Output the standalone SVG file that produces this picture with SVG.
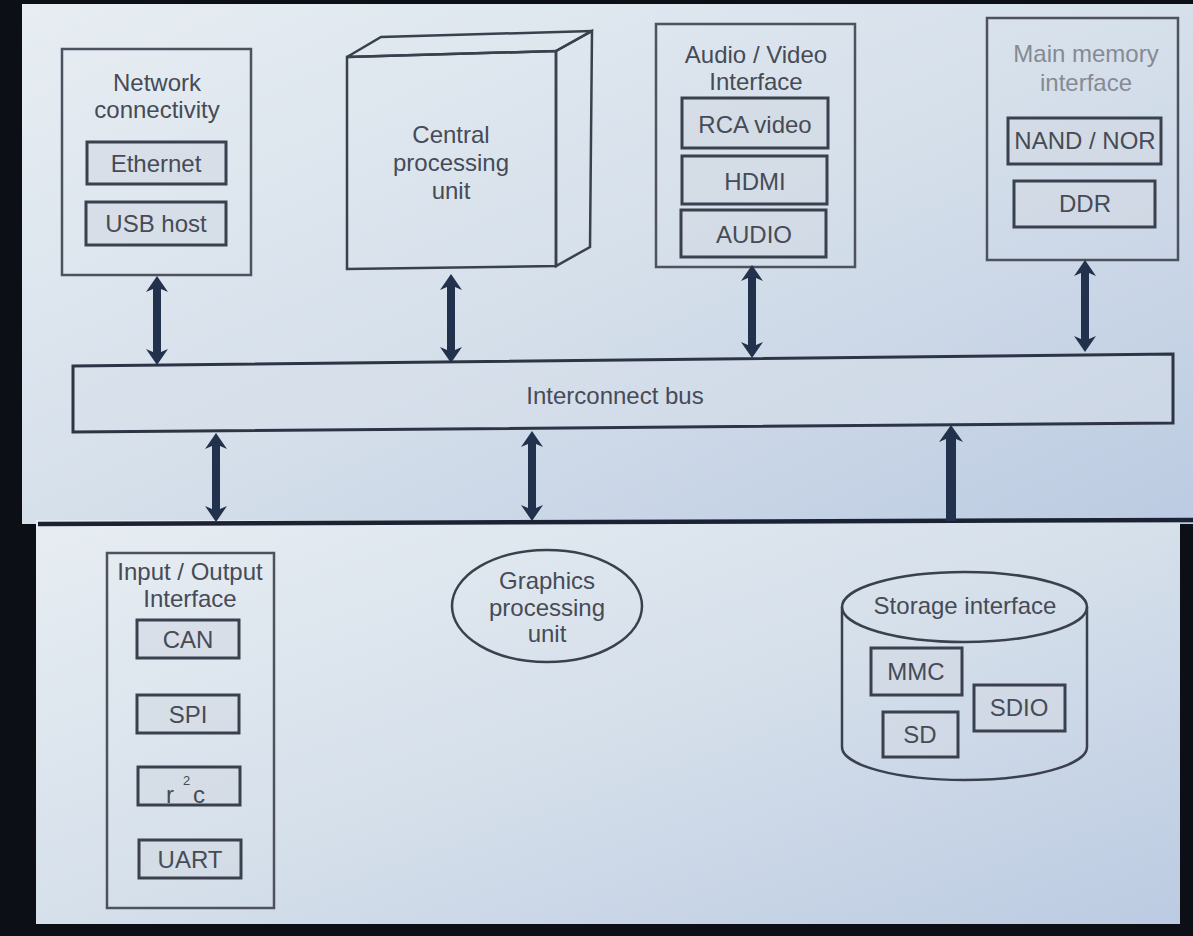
<svg xmlns="http://www.w3.org/2000/svg" width="1193" height="936" viewBox="0 0 1193 936">
<defs>
<linearGradient id="bg" x1="0" y1="0" x2="1" y2="1">
<stop offset="0" stop-color="#e7edf2"/>
<stop offset="0.5" stop-color="#d6e0eb"/>
<stop offset="1" stop-color="#bccbe2"/>
</linearGradient>
<style>
.t{font-family:"Liberation Sans",Arial,sans-serif;font-size:24px;fill:#464b56;text-anchor:middle}
.lt{fill:#858a94}
.outer{fill:none;stroke:#4d525e;stroke-width:2.5}
.inner{fill:#d2d9e2;fill-opacity:0.6;stroke:#3a404e;stroke-width:3}
.shape{fill:none;stroke:#3a404e;stroke-width:2.5}
.arr{fill:#22324d}
</style>
</defs>
<rect x="0" y="0" width="1193" height="936" fill="#0c0f16"/>
<rect x="22" y="4" width="1171" height="520" fill="url(#bg)"/>
<rect x="36" y="520" width="1144" height="404" fill="url(#bg)"/>

<g id="network">
<rect class="outer" x="62" y="49" width="189" height="226"/>
<text class="t" x="157" y="91">Network</text>
<text class="t" x="157" y="118">connectivity</text>
<rect class="inner" x="87" y="142" width="139" height="42"/>
<text class="t" x="156" y="172">Ethernet</text>
<rect class="inner" x="86" y="202" width="140" height="43"/>
<text class="t" x="156" y="232">USB host</text>
</g>

<g id="cpu">
<polygon class="shape" points="347,57 556,51 556,266 347,269"/>
<polygon class="shape" points="347,57 381,37 592,31 556,51"/>
<polygon class="shape" points="556,51 592,31 590,247 556,266"/>
<text class="t" x="451" y="143">Central</text>
<text class="t" x="451" y="171">processing</text>
<text class="t" x="451" y="199">unit</text>
</g>

<g id="av">
<rect class="outer" x="656" y="24" width="199" height="243"/>
<text class="t" x="756" y="63">Audio / Video</text>
<text class="t" x="756" y="90">Interface</text>
<rect class="inner" x="682" y="98" width="146" height="50"/>
<text class="t" x="755" y="133">RCA video</text>
<rect class="inner" x="682" y="156" width="145" height="48"/>
<text class="t" x="755" y="190">HDMI</text>
<rect class="inner" x="681" y="210" width="145" height="47"/>
<text class="t" x="754" y="243">AUDIO</text>
</g>

<g id="memory">
<rect class="outer" x="987" y="18" width="191" height="242"/>
<text class="t lt" x="1086" y="62">Main memory</text>
<text class="t lt" x="1086" y="91">interface</text>
<rect class="inner" x="1008" y="118" width="153" height="46"/>
<text class="t" x="1085" y="149">NAND / NOR</text>
<rect class="inner" x="1014" y="181" width="141" height="46"/>
<text class="t" x="1085" y="212">DDR</text>
</g>

<g id="bus">
<polygon fill="#d7e0ea" fill-opacity="0.5" stroke="#2c3445" stroke-width="3" points="73,366 1173,354 1173,423 73,432"/>
<text class="t" x="615" y="404">Interconnect bus</text>
</g>

<g id="io">
<rect class="outer" x="107" y="553" width="167" height="355"/>
<text class="t" x="190" y="580">Input / Output</text>
<text class="t" x="190" y="607">Interface</text>
<rect class="inner" x="137" y="620" width="102" height="38"/>
<text class="t" x="188" y="648">CAN</text>
<rect class="inner" x="137" y="695" width="102" height="38"/>
<text class="t" x="188" y="723">SPI</text>
<rect class="inner" x="138" y="767" width="102" height="38"/>
<text class="t" style="text-anchor:start"><tspan x="166" y="803">r</tspan><tspan x="183" y="785" style="font-size:13px">2</tspan><tspan x="193" y="803">c</tspan></text>
<rect class="inner" x="139" y="840" width="102" height="38"/>
<text class="t" x="190" y="868">UART</text>
</g>

<g id="gpu">
<ellipse class="shape" cx="547" cy="606" rx="95" ry="56"/>
<text class="t" x="547" y="589">Graphics</text>
<text class="t" x="547" y="616">processing</text>
<text class="t" x="547" y="642">unit</text>
</g>

<g id="storage">
<path class="shape" d="M842,607 L842,747 A122.5,33 0 0 0 1087,747 L1087,607"/>
<ellipse class="shape" cx="964.5" cy="607" rx="122.5" ry="35"/>
<text class="t" x="965" y="614">Storage interface</text>
<rect class="inner" x="871" y="648" width="91" height="47"/>
<text class="t" x="916" y="680">MMC</text>
<rect class="inner" x="883" y="712" width="75" height="45"/>
<text class="t" x="920" y="743">SD</text>
<rect class="inner" x="974" y="685" width="91" height="46"/>
<text class="t" x="1019" y="716">SDIO</text>
</g>

<g id="connectors">
<line x1="38" y1="524" x2="1193" y2="520" stroke="#1a2233" stroke-width="4.5"/>
<polygon class="arr" points="157,276 168,292 161,289 161,352 168,349 157,365 146,349 153,352 153,289 146,292"/>
<polygon class="arr" points="451,274 462,290 455,287 455,350 462,347 451,363 440,347 447,350 447,287 440,290"/>
<polygon class="arr" points="752,265 763,281 756,278 756,345 763,342 752,358 741,342 748,345 748,278 741,281"/>
<polygon class="arr" points="1085,260 1096,276 1089,273 1089,339 1096,336 1085,352 1074,336 1081,339 1081,273 1074,276"/>
<polygon class="arr" points="216,433 227,449 220,446 220,509 227,506 216,522 205,506 212,509 212,446 205,449"/>
<polygon class="arr" points="532,431 543,447 536,444 536,508 543,505 532,521 521,505 528,508 528,444 521,447"/>
<polygon class="arr" points="951,425 963,442 956,439 956,521 946,521 946,439 939,442"/>
</g>
</svg>
